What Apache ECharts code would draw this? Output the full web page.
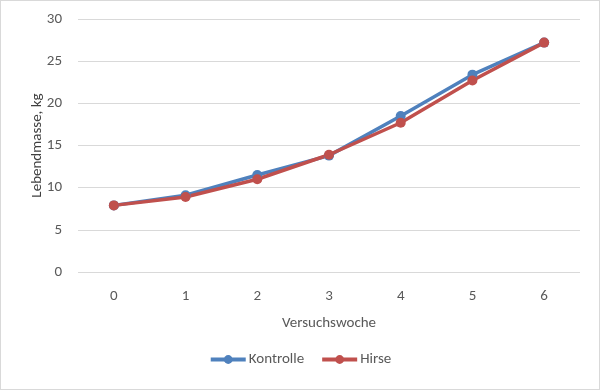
<!DOCTYPE html>
<html><head><meta charset="utf-8">
<script src="https://cdn.jsdelivr.net/npm/echarts@6/dist/echarts.min.js"></script>
<style>html,body{margin:0;padding:0;background:#fff}#c{width:600px;height:390px;box-sizing:border-box;border:1px solid #d9d9d9}</style>
</head><body><div id="c"></div>
<script>
var categories = ['0','1','2','3','4','5','6'];
var kontrolle = [7.9, 9.1, 11.5, 13.8, 18.5, 23.4, 27.2];
var hirse = [7.9, 8.9, 11.0, 13.9, 17.7, 22.7, 27.2];
var font = 'Carlito, "Liberation Sans Narrow", "Open Sans", sans-serif';
var chart = echarts.init(document.getElementById('c'));
chart.setOption({
  animation: false,
  textStyle: {fontFamily: font},
  grid: {left: 77, right: 19, top: 18, bottom: 117},
  legend: {
    bottom: 17, left: 'center', itemWidth: 35, itemHeight: 11, itemGap: 16,
    textStyle: {fontSize: 15, color: '#595959', fontFamily: font, padding: [0,0,0,-2]},
    lineStyle: {width: 4},
    data: ['Kontrolle','Hirse']
  },
  xAxis: {
    type: 'category', data: categories, boundaryGap: true,
    name: 'Versuchswoche', nameLocation: 'middle', nameGap: 44, nameMoveOverlap: false,
    nameTextStyle: {fontSize: 15, color: '#595959', fontFamily: font},
    axisLine: {show: false}, axisTick: {show: false},
    axisLabel: {fontSize: 15, color: '#595959', margin: 17, fontFamily: font}
  },
  yAxis: {
    type: 'value', min: 0, max: 30, interval: 5,
    name: 'Lebendmasse, kg', nameLocation: 'middle', nameGap: 33, nameMoveOverlap: false,
    nameTextStyle: {fontSize: 15, color: '#404040', fontFamily: font},
    axisLabel: {fontSize: 15, color: '#595959', margin: 16, fontFamily: font},
    splitLine: {lineStyle: {color: '#d9d9d9', width: 1}}
  },
  series: [
    {name: 'Kontrolle', type: 'line', data: kontrolle, symbol: 'circle', symbolSize: 10,
     itemStyle: {color: '#4F81BD'}, lineStyle: {width: 3.5, color: '#4F81BD'}},
    {name: 'Hirse', type: 'line', data: hirse, symbol: 'circle', symbolSize: 10,
     itemStyle: {color: '#C0504D'}, lineStyle: {width: 3.5, color: '#C0504D'}}
  ]
});
</script></body></html>
